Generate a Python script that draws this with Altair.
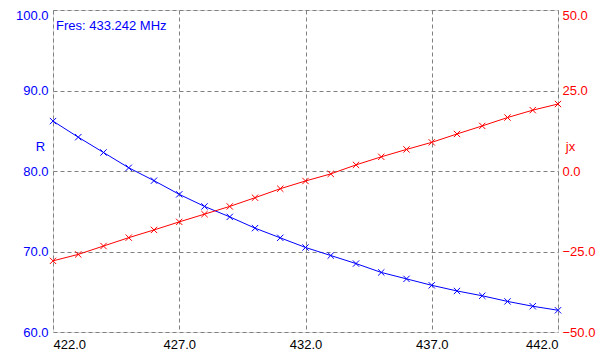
import altair as alt
import pandas as pd

freq = [422, 423, 424, 425, 426, 427, 428, 429, 430, 431, 432,
        433, 434, 435, 436, 437, 438, 439, 440, 441, 442]
r_vals = [86.2, 84.2, 82.3, 80.4, 78.8, 77.1, 75.6, 74.3, 72.9, 71.7, 70.5,
          69.5, 68.5, 67.4, 66.6, 65.8, 65.1, 64.5, 63.8, 63.2, 62.7]
jx_vals = [-27.9, -25.9, -23.3, -20.7, -18.3, -15.8, -13.4, -11.0, -8.3, -5.5, -3.1,
           -0.9, 1.9, 4.4, 6.7, 8.9, 11.5, 14.0, 16.6, 18.9, 20.8]
x_ticks = [422, 427, 432, 437, 442]
r_ticks = [60, 70, 80, 90, 100]
jx_ticks = [-50, -25, 0, 25, 50]
annotation = "Fres: 433.242 MHz"

df = pd.DataFrame({"f": freq, "R": r_vals, "jx": jx_vals})

FONT = "Liberation Sans"
FS = 13
BLUE = "#0000ff"
RED = "#ff0000"
XSHAPE = "M-1,-1L1,1M-1,1L1,-1"

x_enc = alt.X("f:Q", scale=alt.Scale(domain=[422, 442], nice=False, zero=False),
              axis=alt.Axis(values=x_ticks, format=".1f", title=None, ticks=False,
                            labelPadding=6, labelColor="black", labelFont=FONT,
                            labelFontSize=FS, grid=True, gridColor="#808080",
                            gridDash=[4, 3], domain=False))

r_axis = alt.Axis(values=r_ticks, format=".1f", title="R", titleAngle=0,
                  titleX=-13, titleY=136, titleAlign="center", titleBaseline="middle",
                  titleColor=BLUE, titleFont=FONT, titleFontSize=FS,
                  titleFontWeight="normal", ticks=False, labelPadding=5,
                  labelColor=BLUE, labelFont=FONT, labelFontSize=FS, grid=True,
                  labelBaseline={"condition": {"test": "datum.value == 100", "value": "top"},
                                 "value": "middle"},
                  labelOffset={"condition": {"test": "datum.value == 100", "value": -1},
                               "value": 0},
                  gridColor="#808080", gridDash=[4, 3], domain=False, orient="left")

jx_axis = alt.Axis(values=jx_ticks, format=".1f", title="jx", titleAngle=0,
                   titleX=12, titleY=136, titleAlign="center", titleBaseline="middle",
                   titleColor=RED, titleFont=FONT, titleFontSize=FS,
                   titleFontWeight="normal", ticks=False, labelPadding=4,
                   labelColor=RED, labelFont=FONT, labelFontSize=FS, grid=False,
                   labelBaseline={"condition": {"test": "datum.value == 50", "value": "top"},
                                  "value": "middle"},
                   labelOffset={"condition": {"test": "datum.value == 50", "value": -1},
                                "value": 0},
                   domain=False, orient="right")

base = alt.Chart(df)

r_line = base.mark_line(color=BLUE, strokeWidth=1).encode(
    x=x_enc, y=alt.Y("R:Q", scale=alt.Scale(domain=[60, 100], nice=False, zero=False), axis=r_axis))
r_pts = base.mark_point(shape=XSHAPE, size=40, color=BLUE, filled=False, strokeWidth=1, opacity=1).encode(
    x="f:Q", y="R:Q")

jx_line = base.mark_line(color=RED, strokeWidth=1).encode(
    x="f:Q", y=alt.Y("jx:Q", scale=alt.Scale(domain=[-50, 50], nice=False, zero=False), axis=jx_axis))
jx_pts = base.mark_point(shape=XSHAPE, size=40, color=RED, filled=False, strokeWidth=1, opacity=1).encode(
    x="f:Q", y="jx:Q")

note = alt.Chart(pd.DataFrame({"t": [annotation]})).mark_text(
    align="left", baseline="middle", font=FONT, fontSize=FS, color=BLUE
).encode(text="t:N", x=alt.value(3), y=alt.value(16))

left = alt.layer(r_line, r_pts, note)
right = alt.layer(jx_line, jx_pts)

chart = alt.layer(left, right).resolve_scale(y="independent").properties(
    width=505, height=322,
    autosize=alt.AutoSizeParams(type="none"),
    padding={"left": 45, "top": 2, "right": 43, "bottom": 20},
).configure_view(stroke="black", strokeWidth=1.5).configure(background="white")

chart.save("out.html", embed_options={"renderer": "svg", "actions": False})
